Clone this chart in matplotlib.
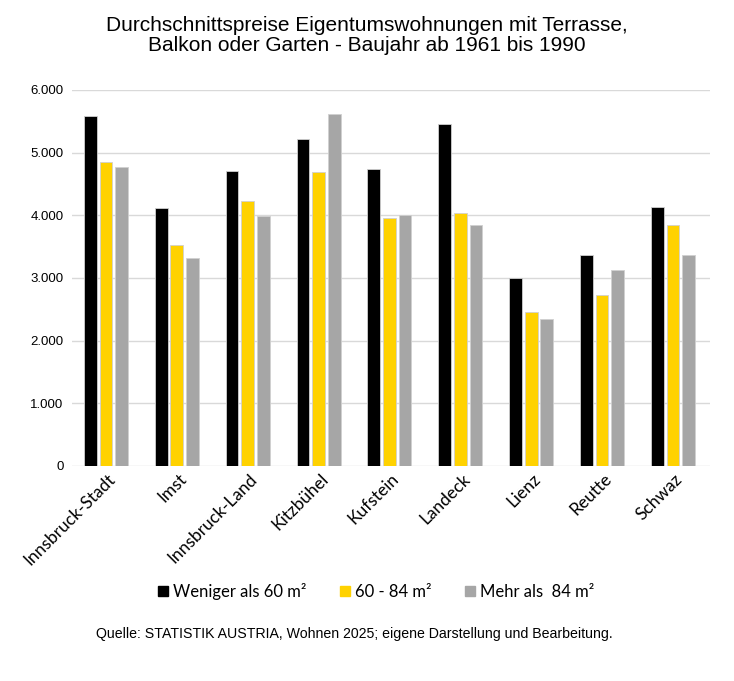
import matplotlib.pyplot as plt
import numpy as np
from matplotlib.ticker import FuncFormatter

bezirke = ['Innsbruck-Stadt', 'Imst', 'Innsbruck-Land', 'Kitzbühel', 'Kufstein',
           'Landeck', 'Lienz', 'Reutte', 'Schwaz']
unter_60 = [5590, 4110, 4710, 5210, 4740, 5460, 3000, 3370, 4130]
von_60_84 = [4845, 3520, 4220, 4690, 3950, 4030, 2450, 2720, 3850]
ueber_84 = [4770, 3310, 3990, 5610, 4000, 3850, 2340, 3120, 3370]
serien_namen = ['Weniger als 60 m²', '60 - 84 m²', 'Mehr als  84 m²']
farben = ['#000000', '#ffd200', '#a6a6a6']

fig = plt.figure(figsize=(7.34, 6.81), dpi=100)
ax = fig.add_axes([0.098, 0.316, 0.869, 0.552])

x = np.arange(len(bezirke))
breite = 0.18
abstand = 0.22
for i, (werte, name, farbe) in enumerate(zip([unter_60, von_60_84, ueber_84], serien_namen, farben)):
    ax.bar(x + (i - 1) * abstand - 0.02, werte, width=breite, color=farbe, label=name,
           edgecolor='#d0d0d0', linewidth=0.6, zorder=3)

ax.set_xlim(-0.5, len(bezirke) - 0.5)
ax.set_ylim(0, 6000)
ax.set_yticks(np.arange(0, 6001, 1000))
ax.yaxis.set_major_formatter(FuncFormatter(lambda v, p: f'{int(v):,}'.replace(',', '.')))
ax.grid(axis='y', color='#d9d9d9', linewidth=1, zorder=0)
for s in ax.spines.values():
    s.set_visible(False)
ax.tick_params(axis='both', length=0)
ax.tick_params(axis='y', labelsize=9.5, pad=6)
for lab in ax.get_yticklabels():
    lab.set_family('Liberation Sans')

ax.set_xticks(x)
ax.set_xticklabels(bezirke, rotation=45, ha='right', rotation_mode='anchor',
                   fontsize=12.5, family='Lato')

fig.text(0.5, 0.977, 'Durchschnittspreise Eigentumswohnungen mit Terrasse,\nBalkon oder Garten - Baujahr ab 1961 bis 1990',
         ha='center', va='top', fontsize=15, family='Liberation Sans', linespacing=1.1)

handles = [plt.Line2D([], [], marker='s', linestyle='', markersize=7, color=f) for f in farben]
fig.legend(handles, serien_namen, loc='center', bbox_to_anchor=(0.51, 0.131), ncol=3,
           frameon=False, prop={'family': 'Lato', 'size': 12}, handletextpad=0.1,
           columnspacing=1.8, handlelength=1.0)

fig.text(0.131, 0.069, 'Quelle: STATISTIK AUSTRIA, Wohnen 2025; eigene Darstellung und Bearbeitung.',
         ha='left', va='center', fontsize=10.2, family='Liberation Sans')

fig.savefig('out.png', dpi=100)
